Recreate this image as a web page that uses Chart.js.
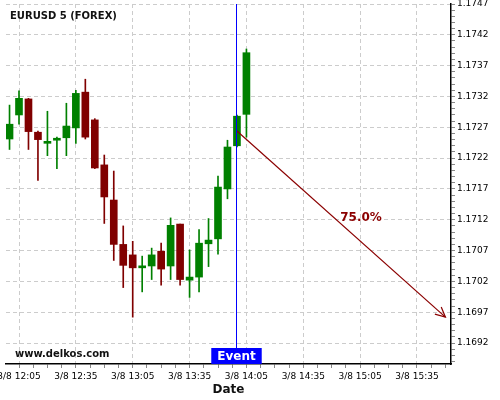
<!DOCTYPE html>
<html>
<head>
<meta charset="utf-8">
<script src="https://cdn.jsdelivr.net/npm/chart.js@4.4.1/dist/chart.umd.min.js"></script>
<style>
  html, body { margin: 0; padding: 0; background: #fff; }
  #wrap { width: 500px; height: 400px; }
</style>
</head>
<body>
<div id="wrap"><canvas id="chart" width="500" height="400"></canvas></div>
<script>
// EURUSD 5 min candles (3/8)
const times  = ['12:00','12:05','12:10','12:15','12:20','12:25','12:30','12:35','12:40','12:45','12:50','12:55','13:00',
                '13:05','13:10','13:15','13:20','13:25','13:30','13:35','13:40','13:45','13:50','13:55','14:00','14:05'];
const opens  = [1.17251,1.17290,1.17316,1.17262,1.17244,1.17249,1.17253,1.17269,1.17327,1.17282,1.17209,1.17152,1.17080,
                1.17063,1.17042,1.17045,1.17069,1.17045,1.17113,1.17022,1.17027,1.17081,1.17089,1.17170,1.17240,1.17291];
const closes = [1.17275,1.17317,1.17263,1.17250,1.17246,1.17251,1.17272,1.17325,1.17254,1.17204,1.17157,1.17080,1.17046,
                1.17042,1.17045,1.17063,1.17040,1.17111,1.17023,1.17027,1.17082,1.17087,1.17173,1.17238,1.17288,1.17391];
const highs  = [1.17306,1.17329,1.17317,1.17264,1.17296,1.17254,1.17309,1.17330,1.17348,1.17284,1.17225,1.17199,1.17110,
                1.17085,1.17061,1.17074,1.17082,1.17123,1.17113,1.17071,1.17104,1.17122,1.17191,1.17249,1.17290,1.17397];
const lows   = [1.17234,1.17275,1.17234,1.17184,1.17224,1.17203,1.17224,1.17244,1.17251,1.17203,1.17114,1.17054,1.17010,
                1.16962,1.17003,1.17023,1.17014,1.17023,1.17014,1.16994,1.17003,1.17044,1.17064,1.17154,1.17238,1.17254];

// forecast arrow after the event
const eventTime = '14:00';
const arrowTimes = ['14:00', '15:50'];
const arrowValues = [1.17264, 1.16962];
const arrowLabel = '75.0%';

// axis ticks
const xTickLabels = ['12:05','12:35','13:05','13:35','14:05','14:35','15:05','15:35'];
const yTickLabels = ['1.1692','1.1697','1.1702','1.1707','1.1712','1.1717','1.1722','1.1727','1.1732','1.1737','1.1742','1.1747'];

const toMin = s => { const [h, m] = s.split(':').map(Number); return h * 60 + m; };
const fmtTime = v => {
    const h = Math.floor(v / 60), m = Math.round(v % 60);
    return '3/8 ' + h + ':' + String(m).padStart(2, '0');
};

const GREEN = '#008000';
const RED = '#800000';
const ARROW = '#8b0000';
const candleColors = opens.map((o, i) => closes[i] >= o ? GREEN : RED);

const xMajor = xTickLabels.map(toMin);
const xStep = (xMajor[1] - xMajor[0]) / 4;
const xMin = xMajor[0] - 6.86;
const xMax = xMajor[0] + 227.94;

const yMajor = yTickLabels.map(Number);
const yStep = (yMajor[1] - yMajor[0]) / 5;
const yMin = 1.16886;
const yMax = yMajor[yMajor.length - 1];

const overlay = {
    id: 'overlay',
    afterDatasetsDraw(chart) {
        const { ctx, chartArea: a, scales: { x } } = chart;
        ctx.save();

        // forecast arrow head
        const pts = chart.getDatasetMeta(2).data;
        const p0 = pts[0], p1 = pts[1];
        const ang = Math.atan2(p1.y - p0.y, p1.x - p0.x);
        ctx.strokeStyle = ARROW;
        ctx.lineWidth = 1.2;
        ctx.beginPath();
        ctx.moveTo(p1.x - 11 * Math.cos(ang - 0.45), p1.y - 11 * Math.sin(ang - 0.45));
        ctx.lineTo(p1.x, p1.y);
        ctx.lineTo(p1.x - 11 * Math.cos(ang + 0.45), p1.y - 11 * Math.sin(ang + 0.45));
        ctx.stroke();

        // percentage label near the middle of the arrow
        ctx.font = 'bold 12px "DejaVu Sans"';
        ctx.fillStyle = ARROW;
        ctx.textAlign = 'left';
        ctx.textBaseline = 'middle';
        ctx.fillText(arrowLabel, (p0.x + p1.x) / 2 - 1, (p0.y + p1.y) / 2 - 6);

        // event line + tag
        const ex = Math.round(x.getPixelForValue(toMin(eventTime))) - 0.5;
        ctx.strokeStyle = '#0000ff';
        ctx.lineWidth = 1;
        ctx.beginPath();
        ctx.moveTo(ex, a.top);
        ctx.lineTo(ex, a.bottom);
        ctx.stroke();
        ctx.font = 'bold 12px "DejaVu Sans"';
        const w = ctx.measureText('Event').width + 12;
        ctx.fillStyle = '#0000ff';
        ctx.fillRect(ex - w / 2, a.bottom - 16, w, 16);
        ctx.fillStyle = '#ffffff';
        ctx.textAlign = 'center';
        ctx.fillText('Event', ex, a.bottom - 7.5);

        // title and watermark
        ctx.font = 'bold 10px "DejaVu Sans"';
        ctx.fillStyle = '#111';
        ctx.textAlign = 'left';
        ctx.fillText('EURUSD 5 (FOREX)', 10, 16);
        ctx.fillText('www.delkos.com', 15, 354);
        ctx.restore();
    }
};

new Chart(document.getElementById('chart'), {
    type: 'bar',
    data: {
        datasets: [{
            label: 'body',
            data: times.map((t, i) => ({ x: toMin(t), y: [opens[i], closes[i]] })),
            backgroundColor: candleColors,
            barThickness: 7,
            minBarLength: 2,
            grouped: false,
            order: 1
        }, {
            label: 'wick',
            data: times.map((t, i) => ({ x: toMin(t), y: [lows[i], highs[i]] })),
            backgroundColor: candleColors,
            barThickness: 1,
            grouped: false,
            order: 2
        }, {
            type: 'line',
            label: 'forecast',
            data: arrowTimes.map((t, i) => ({ x: toMin(t), y: arrowValues[i] })),
            borderColor: ARROW,
            borderWidth: 1.2,
            pointRadius: 0,
            order: 0
        }]
    },
    options: {
        responsive: false,
        animation: false,
        layout: { padding: { left: 6, top: 4, right: 0, bottom: 0 } },
        plugins: { legend: { display: false }, tooltip: { enabled: false } },
        scales: {
            x: {
                type: 'linear',
                min: xMin,
                max: xMax,
                offset: false,
                afterBuildTicks: s => {
                    const ticks = [];
                    for (let v = xMajor[0] - 4 * xStep; v <= xMax; v += xStep) {
                        if (v < xMin) continue;
                        const k = Math.round((v - xMajor[0]) / xStep);
                        ticks.push({ value: v, major: k % 4 === 0 });
                    }
                    s.ticks = ticks;
                },
                afterFit: s => { s.height = 36; s.paddingLeft = 0; s.paddingRight = 0; },
                ticks: {
                    autoSkip: false,
                    maxRotation: 0,
                    padding: 3,
                    color: '#000',
                    font: { family: 'DejaVu Sans', size: 9 },
                    callback: function (v, i, ticks) { return ticks[i].major ? fmtTime(v) : ''; }
                },
                grid: {
                    offset: false,
                    color: c => c.tick && c.tick.major ? '#cccccc' : 'rgba(0,0,0,0)',
                    tickColor: '#888',
                    tickLength: 4,
                    lineWidth: 1
                },
                border: { display: true, color: '#000', width: 1.5, dash: [4, 3] },
                title: {
                    display: true,
                    text: 'Date',
                    color: '#111',
                    font: { family: 'DejaVu Sans', size: 12, weight: 'bold' },
                    padding: { top: 0, bottom: 3 }
                }
            },
            y: {
                position: 'right',
                min: yMin,
                max: yMax,
                afterBuildTicks: s => {
                    const ticks = [];
                    for (let k = -3; k <= 55; k++) {
                        ticks.push({ value: +(yMajor[0] + k * yStep).toFixed(5), major: ((k % 5) + 5) % 5 === 0 });
                    }
                    s.ticks = ticks;
                },
                afterFit: s => { s.width = 49; s.paddingTop = 0; s.paddingBottom = 0; },
                ticks: {
                    autoSkip: false,
                    padding: 2,
                    color: '#000',
                    font: { family: 'DejaVu Sans', size: 9 },
                    callback: function (v, i, ticks) { return ticks[i].major ? v.toFixed(4) : ''; }
                },
                grid: {
                    color: c => c.tick && c.tick.major ? '#cccccc' : 'rgba(0,0,0,0)',
                    tickColor: '#888',
                    tickLength: 4,
                    lineWidth: 1
                },
                border: { display: true, color: '#000', width: 1.5, dash: [4, 3] }
            }
        }
    },
    plugins: [overlay]
});
</script>
</body>
</html>
